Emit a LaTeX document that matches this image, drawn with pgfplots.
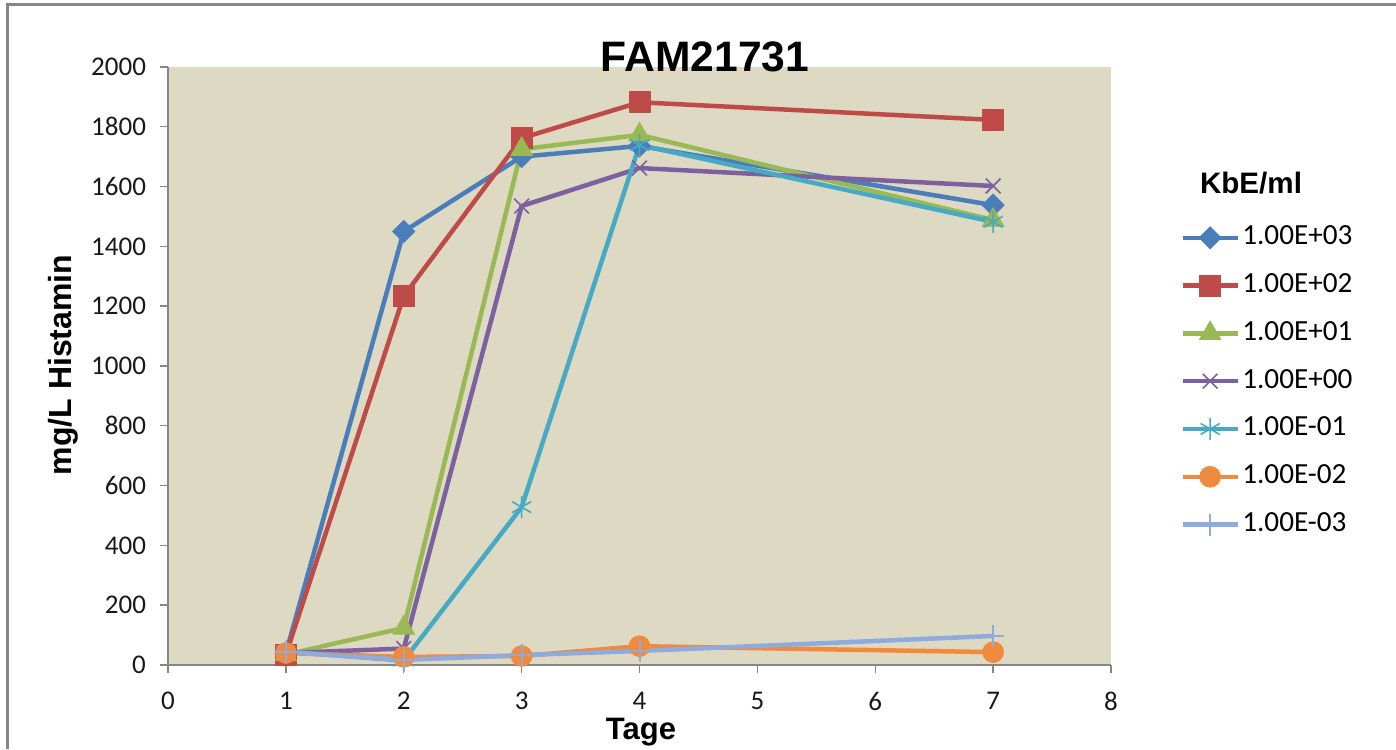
\documentclass[border=0pt]{standalone}
\usepackage{pgfplots}
\pgfplotsset{compat=1.18}
\usepackage{fontspec}
\setmainfont{Carlito}
\newfontfamily\arialfont{Liberation Sans}

\definecolor{sBlue}{HTML}{4A7EBB}
\definecolor{sRed}{HTML}{BE4B48}
\definecolor{sGreen}{HTML}{98B954}
\definecolor{sPurple}{HTML}{7D60A0}
\definecolor{sCyan}{HTML}{46AAC5}
\definecolor{sOrange}{HTML}{F08A3C}
\definecolor{sLight}{HTML}{8FAADC}
\definecolor{plotbg}{HTML}{DDD9C3}
\definecolor{axgray}{HTML}{868686}

\begin{document}
\begin{tikzpicture}[x=1pt,y=1pt]
\path[use as bounding box, fill=white] (0,0) rectangle (698,374.5);
% chart frame (top and left edges)
\draw[axgray, line width=1.2pt] (3.8,0) -- (3.8,372.3) -- (698,372.3);

\begin{axis}[
  at={(84pt,42pt)}, anchor=south west,
  scale only axis, width=471.5pt, height=299pt,
  xmin=0, xmax=8, ymin=0, ymax=2000,
  xtick={0,...,8}, ytick={0,200,...,2000},
  axis x line*=bottom, axis y line*=left,
  axis line style={axgray, line width=0.7pt, -},
  tick style={axgray, line width=0.7pt},
  tick align=outside, major tick length=4pt,
  axis background/.style={fill=plotbg},
  /pgf/number format/assume math mode=true,
  /pgf/number format/1000 sep={},
  tick label style={font=\fontsize{13.5}{15}\selectfont, text=black!90},
  xticklabel style={yshift=-6pt},
  yticklabel style={xshift=-3.5pt},
  clip=false,
  legend style={draw=none, fill=none, at={(1,1)}, anchor=north west,
    xshift=31.5pt, yshift=-76pt,
    font=\fontsize{14.6}{16}\selectfont, row sep=9.5pt,
    nodes={inner sep=1.2pt, text height=9.5pt, text depth=2.5pt}},
  legend cell align=left,
  legend image code/.code={\draw[mark repeat=2, mark phase=2, #1]
    plot coordinates {(0pt,0pt) (13.75pt,0pt) (27.5pt,0pt)};},
  every axis plot/.append style={line width=2.25pt},
]
\addplot[sBlue, mark=square*, mark size=3.9pt, mark options={rotate=45, fill=sBlue, line width=0.4pt}]
  coordinates {(1,40) (2,1450) (3,1700) (4,1736) (7,1538)};
\addlegendentry{1.00E+03}
\addplot[sRed, mark=square*, mark size=5.2pt, mark options={fill=sRed, line width=0.4pt}]
  coordinates {(1,35) (2,1234) (3,1762) (4,1882) (7,1823)};
\addlegendentry{1.00E+02}
\addplot[sGreen, mark=triangle*, mark size=6.2pt, mark options={fill=sGreen, line width=0.4pt}]
  coordinates {(1,35) (2,124) (3,1725) (4,1773) (7,1488)};
\addlegendentry{1.00E+01}
\addplot[sPurple, mark=x, mark size=5.2pt, mark options={line width=0.8pt}]
  coordinates {(1,40) (2,55) (3,1535) (4,1662) (7,1602)};
\addlegendentry{1.00E+00}
\addplot[sCyan, mark=asterisk, mark size=5.5pt, mark options={line width=0.8pt}]
  coordinates {(1,45) (2,15) (3,528) (4,1739) (7,1482)};
\addlegendentry{1.00E-01}
\addplot[sOrange, mark=*, mark size=5.2pt, mark options={fill=sOrange, line width=0.4pt}]
  coordinates {(1,40) (2,27) (3,30) (4,63) (7,43)};
\addlegendentry{1.00E-02}
\addplot[sLight, mark=+, mark size=5.5pt, mark options={line width=1pt}]
  coordinates {(1,43) (2,17) (3,33) (4,47) (7,97)};
\addlegendentry{1.00E-03}
\end{axis}

% titles and axis labels
\node[font=\arialfont\bfseries\fontsize{21.3}{24}\selectfont] at (352.5,346) {FAM21731};
\node[font=\arialfont\bfseries\fontsize{16}{19}\selectfont, rotate=90] at (31.5,192) {mg/L Histamin};
\node[font=\arialfont\bfseries\fontsize{15.5}{18}\selectfont] at (320.5,8.5) {Tage};
\node[font=\arialfont\bfseries\fontsize{14.8}{17}\selectfont] at (625.5,283) {KbE/ml};
\end{tikzpicture}
\end{document}
